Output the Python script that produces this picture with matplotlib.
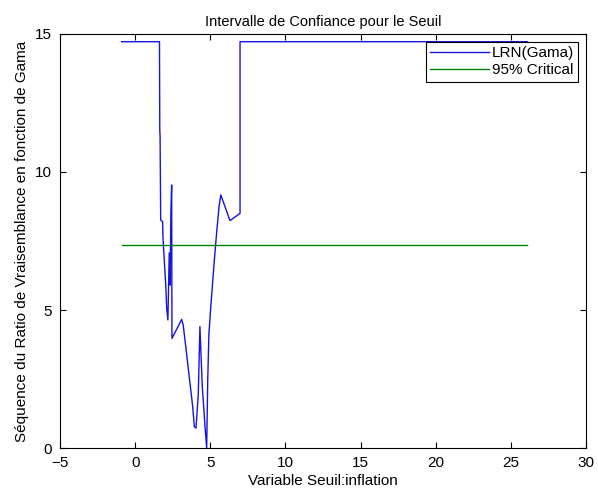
import matplotlib
matplotlib.use('Agg')
from matplotlib import pyplot as plt

# threshold grid (inflation) and likelihood ratio sequence
seuil = [-0.9, 1.62, 1.64, 1.66, 1.70, 1.83, 1.85, 1.95, 2.03, 2.10, 2.18,
         2.27, 2.33, 2.38, 2.43, 2.45, 3.10, 3.20, 3.38, 3.60, 3.83, 3.94,
         4.05, 4.20, 4.31, 4.47, 4.65, 4.76, 4.83, 4.91, 5.05, 5.27, 5.42,
         5.58, 5.70, 6.31, 6.98, 6.98, 26.1]
lrn = [14.72, 14.72, 11.5, 11.3, 8.26, 8.2, 7.66, 6.7, 5.98, 5.06, 4.64,
       7.07, 5.9, 8.6, 9.53, 3.97, 4.66, 4.45, 3.62, 2.58, 1.5, 0.77,
       0.72, 1.92, 4.40, 2.22, 0.77, 0.0, 2.46, 4.15, 5.24, 6.81, 7.78,
       8.74, 9.17, 8.24, 8.5, 14.72, 14.72]

crit_x = [-0.9, 26.1]
crit_y = [7.35, 7.35]

plt.rcParams['font.family'] = ['Liberation Sans', 'DejaVu Sans']

fig = plt.figure(figsize=(5.98, 4.94), dpi=100)
ax = fig.add_axes([0.1003, 0.0931, 0.8797, 0.8381])

ax.plot(seuil, lrn, color='#1414e0', lw=1.0, label='LRN(Gama)')
ax.plot(crit_x, crit_y, color='#008000', lw=1.0, label='95% Critical')

ax.set_xlim(-5, 30)
ax.set_ylim(0, 15)
ax.set_xticks(range(-5, 31, 5))
ax.set_yticks([0, 5, 10, 15])
ax.tick_params(direction='in', top=True, right=True, labelsize=11,
               length=4, color='black')
ax.tick_params(axis='x', pad=6)
ax.tick_params(axis='y', pad=6)
for s in ax.spines.values():
	s.set_linewidth(0.8)

ax.set_title('Intervalle de Confiance pour le Seuil', fontsize=10.5)
ax.set_xlabel('Variable Seuil:inflation', fontsize=11, labelpad=2.5)
ax.set_ylabel('Séquence du Ratio de Vraisemblance en fonction de Gama',
              fontsize=11, labelpad=4)

leg = ax.legend(loc='upper right', fontsize=11, fancybox=False,
                edgecolor='black', framealpha=1, borderaxespad=0.5,
                handlelength=3.8, handletextpad=0.2, labelspacing=0.2,
                borderpad=0.3)
leg.get_frame().set_linewidth(0.8)

fig.savefig('out.png', dpi=100)
